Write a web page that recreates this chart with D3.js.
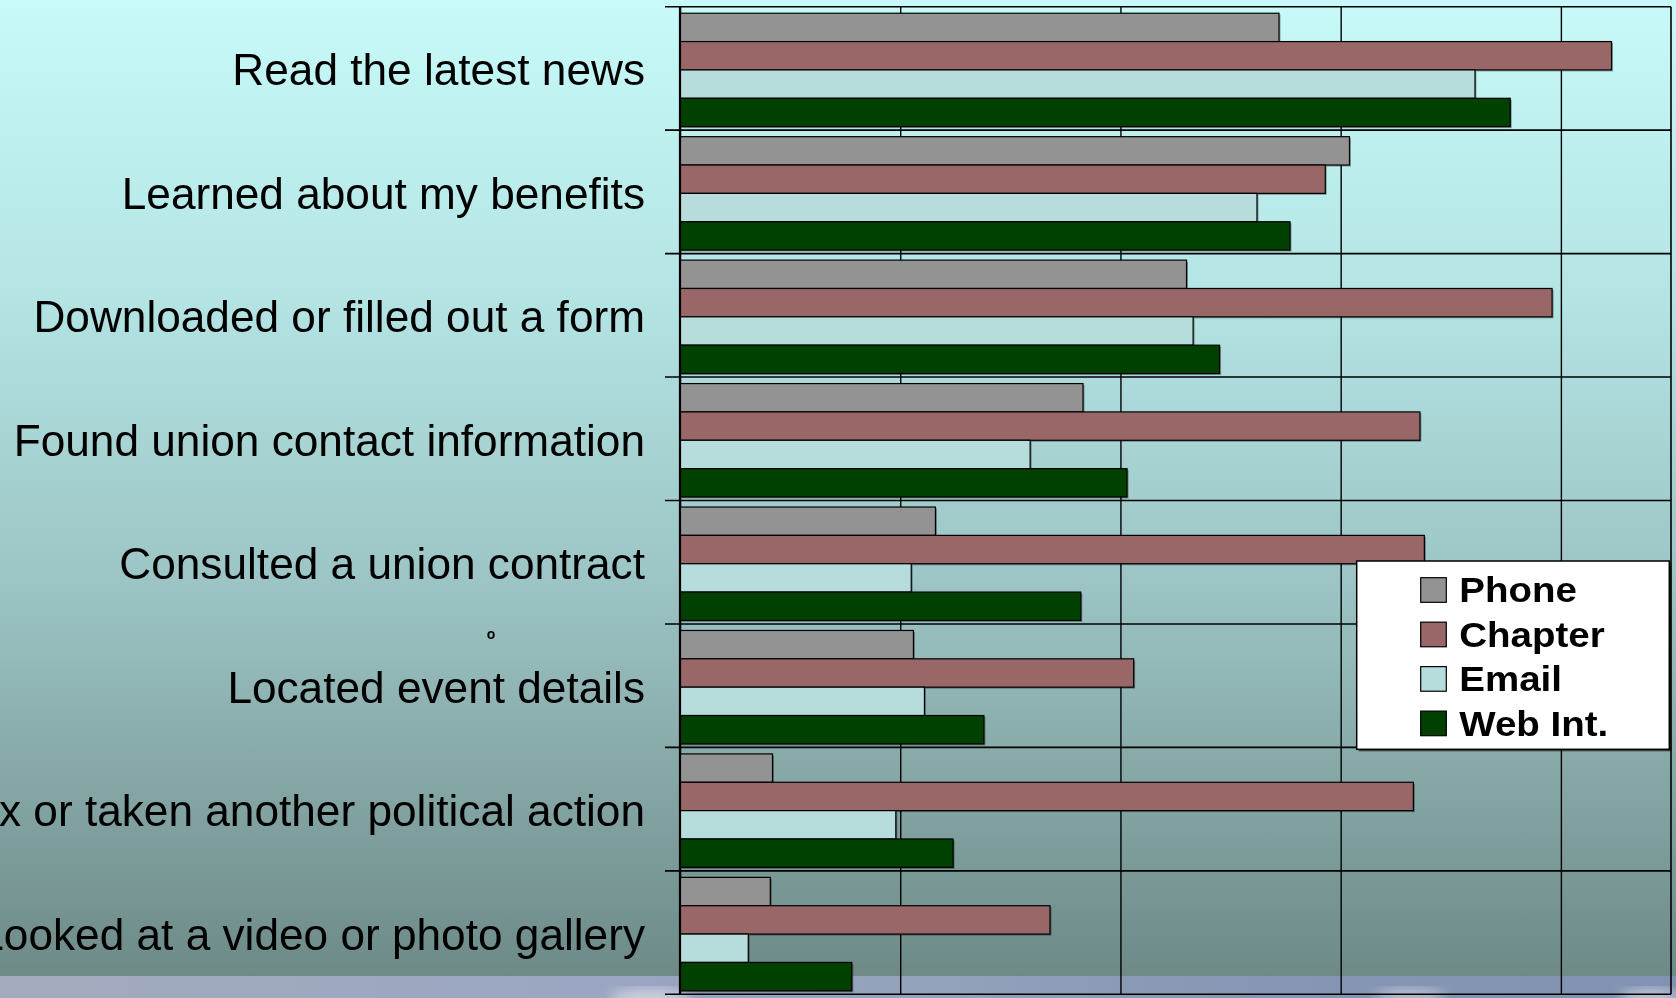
<!DOCTYPE html>
<html>
<head>
<meta charset="utf-8">
<script src="https://cdn.jsdelivr.net/npm/d3@7"></script>
<style>
  html, body { margin: 0; padding: 0; background: #ffffff; }
  svg { display: block; }
</style>
</head>
<body>
<svg id="chart" width="1676" height="998"></svg>
<script>
// ---- data ----
const categories = [
  "Read the latest news",
  "Learned about my benefits",
  "Downloaded or filled out a form",
  "Found union contact information",
  "Consulted a union contract",
  "Located event details",
  "Sent a fax or taken another political action",
  "Looked at a video or photo gallery"
];
const seriesNames = ["Phone", "Chapter", "Email", "Web Int."];
const phoneValues   = [27.2, 30.4, 23.0, 18.3, 11.6, 10.6, 4.2, 4.1];
const chapterValues = [42.3, 29.3, 39.6, 33.6, 33.8, 20.6, 33.3, 16.8];
const emailValues   = [36.1, 26.2, 23.3, 15.9, 10.5, 11.1, 9.8, 3.1];
const webValues     = [37.7, 27.7, 24.5, 20.3, 18.2, 13.8, 12.4, 7.8];
const xTicks = [0, 10, 20, 30, 40];
const xMax = 45;
const strayMark = "o";

const seriesValues = [phoneValues, chapterValues, emailValues, webValues];
const seriesColors = ["#939393", "#996767", "#b6dcdc", "#004000"];

// ---- layout ----
const W = 1676, H = 998;
const plot = { left: 680, right: 1671, top: 6.7, bottom: 994.3 };

const svg = d3.select("#chart");
const defs = svg.append("defs");

const bg = defs.append("linearGradient").attr("id", "bgGrad")
  .attr("x1", 0).attr("y1", 0).attr("x2", 0).attr("y2", 1);
bg.append("stop").attr("offset", "0%").attr("stop-color", "#c8fafa");
bg.append("stop").attr("offset", "30%").attr("stop-color", "#b4e4e4");
bg.append("stop").attr("offset", "60%").attr("stop-color", "#9cc4c4");
bg.append("stop").attr("offset", "100%").attr("stop-color", "#6d8a87");

const band = defs.append("linearGradient").attr("id", "bandGrad")
  .attr("x1", 0).attr("y1", 0).attr("x2", 1).attr("y2", 0);
[["0%", "#a2abbd"], ["35%", "#9ba6c2"], ["55%", "#93a3bb"], ["75%", "#8696b4"], ["100%", "#8292b2"]]
  .forEach(([o, c]) => band.append("stop").attr("offset", o).attr("stop-color", c));

defs.append("filter").attr("id", "blur").append("feGaussianBlur").attr("stdDeviation", 6);

svg.append("rect").attr("x", 0).attr("y", 0).attr("width", W).attr("height", 976)
  .attr("fill", "url(#bgGrad)");
svg.append("rect").attr("x", 0).attr("y", 976).attr("width", W).attr("height", H - 976)
  .attr("fill", "url(#bandGrad)");
const blobs = svg.append("g").attr("filter", "url(#blur)").attr("fill", "#ffffff");
blobs.append("ellipse").attr("cx", 650).attr("cy", 998).attr("rx", 40).attr("ry", 10).attr("opacity", 0.45);
blobs.append("ellipse").attr("cx", 1410).attr("cy", 996).attr("rx", 35).attr("ry", 8).attr("opacity", 0.4);
blobs.append("ellipse").attr("cx", 1650).attr("cy", 998).attr("rx", 30).attr("ry", 10).attr("opacity", 0.45);

// ---- scales ----
const x = d3.scaleLinear().domain([0, xMax]).range([plot.left, plot.right]);
const y0 = d3.scaleBand().domain(categories).range([plot.top, plot.bottom]).padding(0);
const y1 = d3.scaleBand().domain(seriesNames).range([0, y0.bandwidth()])
  .paddingInner(0).paddingOuter(0.177).align(0.65);

// ---- gridlines ----
const gx = svg.append("g").attr("transform", `translate(0,${plot.bottom})`)
  .call(d3.axisBottom(x).tickValues(xTicks).tickSize(-(plot.bottom - plot.top)).tickFormat(""));
gx.select(".domain").remove();
gx.selectAll(".tick line").attr("stroke", "#000").attr("stroke-width", 1.4);

const boundaries = categories.map(c => y0(c)).concat([plot.bottom]);
svg.append("g").selectAll("line").data(boundaries).join("line")
  .attr("x1", plot.left - 15).attr("x2", plot.right)
  .attr("y1", d => d).attr("y2", d => d)
  .attr("stroke", "#000").attr("stroke-width", 1.6);

// right border
svg.append("line").attr("x1", plot.right).attr("x2", plot.right)
  .attr("y1", plot.top).attr("y2", plot.bottom)
  .attr("stroke", "#000").attr("stroke-width", 1.6);

// ---- bars ----
const rows = [];
categories.forEach((c, i) => {
  seriesNames.forEach((s, j) => rows.push({ cat: c, s, v: seriesValues[j][i], color: seriesColors[j] }));
});

const barG = svg.append("g");
barG.selectAll("rect.shadow").data(rows).join("rect").attr("class", "shadow")
  .attr("x", x(0) + 1.5)
  .attr("y", d => y0(d.cat) + y1(d.s) + 1.5)
  .attr("width", d => x(d.v) - x(0))
  .attr("height", y1.bandwidth())
  .attr("fill", "rgba(0,0,0,0.35)");
barG.selectAll("rect.bar").data(rows).join("rect").attr("class", "bar")
  .attr("x", x(0))
  .attr("y", d => y0(d.cat) + y1(d.s))
  .attr("width", d => x(d.v) - x(0))
  .attr("height", y1.bandwidth())
  .attr("fill", d => d.color)
  .attr("stroke", "#000").attr("stroke-width", 1.2);

// left axis line
svg.append("line").attr("x1", plot.left).attr("x2", plot.left)
  .attr("y1", plot.top).attr("y2", plot.bottom)
  .attr("stroke", "#000").attr("stroke-width", 2.2);

// ---- category labels ----
svg.append("g").selectAll("text").data(categories).join("text")
  .attr("x", 645)
  .attr("y", d => y0(d) + y0.bandwidth() / 2 + 17)
  .attr("text-anchor", "end")
  .attr("font-family", "'Liberation Sans', Arial, sans-serif")
  .attr("font-size", 44.2)
  .attr("fill", "#000")
  .text(d => d);

// stray small mark above "Located event details"
svg.append("text")
  .attr("x", 491).attr("y", y0(categories[5]) + 15.5)
  .attr("text-anchor", "middle")
  .attr("font-family", "'Liberation Sans', Arial, sans-serif")
  .attr("font-size", 14).attr("font-weight", "bold")
  .attr("fill", "#000")
  .text(strayMark);

// ---- legend ----
const lg = svg.append("g");
lg.append("rect").attr("x", 1358.7).attr("y", 563).attr("width", 312.6).attr("height", 188.3)
  .attr("fill", "rgba(0,0,0,0.6)");
lg.append("rect").attr("x", 1356.7).attr("y", 561).attr("width", 312.6).attr("height", 188.3)
  .attr("fill", "#fff").attr("stroke", "#000").attr("stroke-width", 1.5);
const legRow = d3.scalePoint().domain(seriesNames).range([602.3, 735.7]);
const items = lg.selectAll("g.item").data(seriesNames).join("g").attr("class", "item");
items.append("rect")
  .attr("x", 1420.7).attr("y", d => legRow(d) - 24.6)
  .attr("width", 25.6).attr("height", 24.6)
  .attr("fill", (d, i) => seriesColors[i])
  .attr("stroke", "#000").attr("stroke-width", 1.2);
items.append("text")
  .attr("transform", d => `translate(1459.3,${legRow(d)}) scale(1.1,1)`)
  .attr("font-family", "'Liberation Sans', Arial, sans-serif")
  .attr("font-size", 35).attr("font-weight", "bold")
  .attr("fill", "#000")
  .text(d => d);
</script>
</body>
</html>
